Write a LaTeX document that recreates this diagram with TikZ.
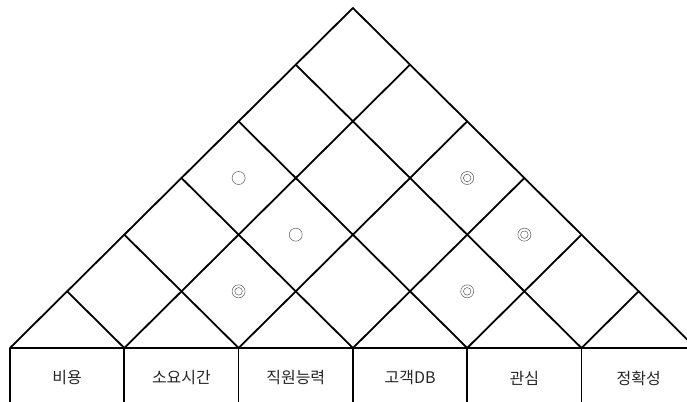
\documentclass[tikz,border=0pt]{standalone}
\usepackage{fontspec}
\setmainfont{Noto Sans CJK KR}
\begin{document}
\begin{tikzpicture}[x=1pt,y=-1pt,
  gridline/.style={line width=1.8pt,black,line cap=round},
  boxline/.style={line width=1.7pt,black},
  lbl/.style={font=\fontsize{16}{18}\selectfont,text=black!85,inner sep=0pt},
  markline/.style={line width=0.5pt,black!65}]
\useasboundingbox (0,0) rectangle (687,401);
\def\xo{10}\def\w{114.3}\def\by{348}\def\hs{56.667}
% grid points P-i-j
\foreach \i in {0,...,6}{
  \foreach \j in {\i,...,6}{
    \pgfmathsetmacro{\px}{\xo+(\i+\j)*\w/2}
    \pgfmathsetmacro{\py}{\by-(\j-\i)*\hs}
    \coordinate (P-\i-\j) at (\px,\py);
  }
}
% lines going up-right and up-left
\foreach \k in {0,...,5}{ \draw[gridline] (P-\k-\k) -- (P-\k-6); }
\foreach \k in {1,...,6}{ \draw[gridline] (P-\k-\k) -- (P-0-\k); }
% boxes
\coordinate (Bend) at (700,\by);
\draw[boxline] (P-0-0) -- (Bend);
\foreach \k in {0,...,6}{
  \pgfmathsetmacro{\px}{\xo+\k*\w}
  \coordinate (V-\k) at (\px,410);
  \draw[boxline] (P-\k-\k) -- (V-\k);
}
% labels
\foreach \k/\t in {0/비용,1/소요시간,2/직원능력,3/고객DB,4/관심,5/정확성}{
  \pgfmathsetmacro{\px}{\xo+(\k+0.5)*\w}
  \node[lbl] (L-\k) at (\px,378) {\t};
}
% marks
\foreach \i/\j/\d in {1/2/1,2/5/1,3/5/1,3/4/1,0/3/0,1/3/0}{
  \pgfmathsetmacro{\px}{\xo+(\i+\j+1)*\w/2}
  \pgfmathsetmacro{\py}{\by-(\j-\i)*\hs}
  \coordinate (M-\i-\j) at (\px,\py);
  \draw[markline] (M-\i-\j) circle (6.5pt);
  \ifnum\d=1 \draw[markline] (M-\i-\j) circle (3.8pt); \fi
}
\end{tikzpicture}
\end{document}
